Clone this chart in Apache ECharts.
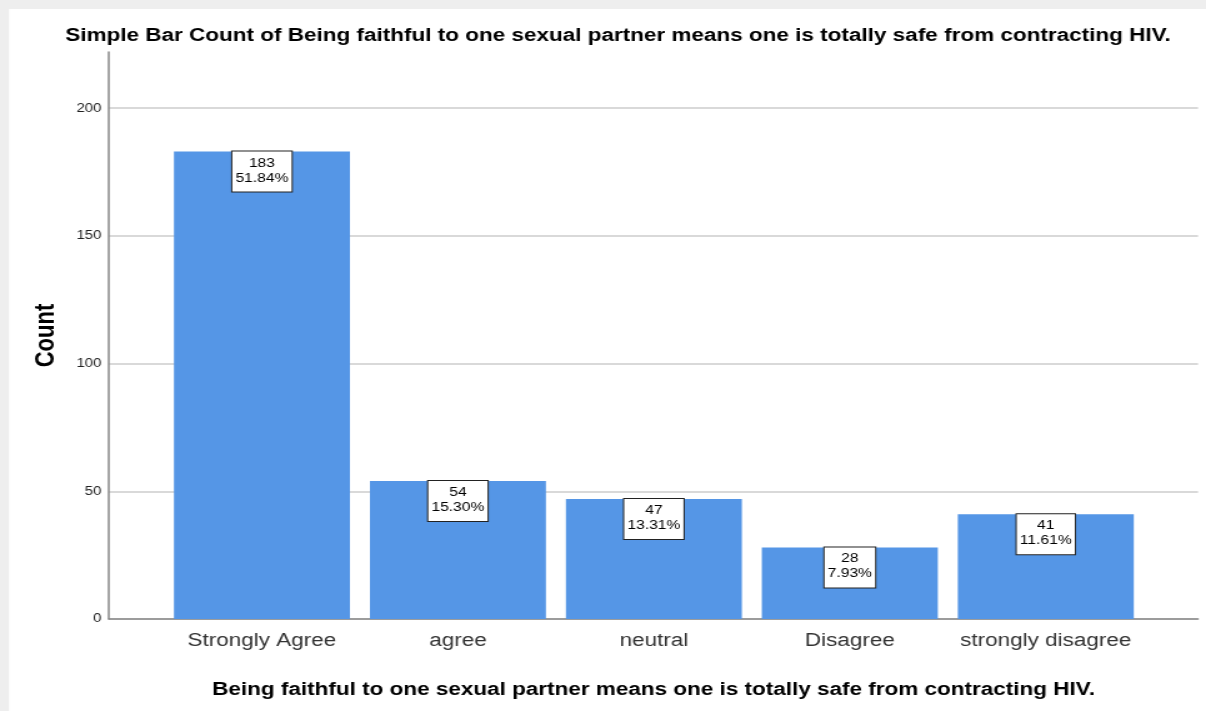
<!DOCTYPE html>
<html>
<head>
<meta charset="utf-8">
<script src="https://cdn.jsdelivr.net/npm/echarts@6/dist/echarts.min.js"></script>
<style>
html,body{margin:0;padding:0;background:#fff;overflow:hidden;}
#wrap{width:1206px;height:711px;overflow:hidden;position:relative;}
#chart{width:965px;height:711px;transform:scaleX(1.24974);transform-origin:0 0;}
</style>
</head>
<body>
<div id="wrap"><div id="chart"></div></div>
<script>
const categories = ['Strongly Agree', 'agree', 'neutral', 'Disagree', 'strongly disagree'];
const counts = [183, 54, 47, 28, 41];
const percents = ['51.84%', '15.30%', '13.31%', '7.93%', '11.61%'];
const yTicks = [0, 50, 100, 150, 200];

const chart = echarts.init(document.getElementById('chart'));
const option = {
  animation: false,
  backgroundColor: '#ffffff',
  textStyle: { fontFamily: 'Arial, "Liberation Sans", sans-serif' },
  graphic: [
    { type: 'rect', shape: { x: 0, y: 0, width: 965, height: 9 }, style: { fill: '#eeeeee' }, z: 100 },
    { type: 'rect', shape: { x: 0, y: 0, width: 7.2, height: 711 }, style: { fill: '#eeeeee' }, z: 100 }
  ],
  title: {
    text: 'Simple Bar Count of Being faithful to one sexual partner means one is totally safe from contracting HIV.',
    left: 489.5,
    top: 22,
    textAlign: 'center',
    textStyle: { fontSize: 18, fontWeight: 'bold', color: '#000', fontFamily: 'Arial, "Liberation Sans", sans-serif' }
  },
  grid: [
    { left: 87.2, right: 6.4, top: 52, bottom: 92 },
    { left: 131.2, right: 49.8, top: 52, bottom: 92 }
  ],
  xAxis: [
    {
      gridIndex: 0, type: 'value', min: 0, max: 1,
      axisLine: { show: true, onZero: false, lineStyle: { color: '#888888', width: 1.5 } },
      axisTick: { show: false }, axisLabel: { show: false }, splitLine: { show: false },
      name: 'Being faithful to one sexual partner means one is totally safe from contracting HIV.',
      nameLocation: 'middle', nameGap: 62,
      nameTextStyle: { fontSize: 18, fontWeight: 'bold', color: '#000' }
    },
    {
      gridIndex: 1, type: 'category', data: categories,
      axisLine: { show: false }, axisTick: { show: false },
      axisLabel: { fontSize: 18, color: '#333', margin: 13, interval: 0, hideOverlap: false }
    }
  ],
  yAxis: [
    {
      gridIndex: 0, type: 'value', min: 0, max: 222, interval: 50,
      axisLine: { show: true, lineStyle: { color: '#888888', width: 1.5 } },
      axisTick: { show: false },
      axisLabel: {
        fontSize: 12, color: '#222', margin: 6, showMaxLabel: false,
        formatter: v => (yTicks.indexOf(v) >= 0 ? String(v) : '')
      },
      splitLine: { show: true, showMaxLine: false, lineStyle: { color: '#cccccc', width: 1.5 } },
      name: 'Count', nameLocation: 'middle', nameGap: 39, nameRotate: 90,
      nameTextStyle: { fontSize: 22, fontWeight: 'bold', color: '#000' }
    },
    {
      gridIndex: 1, type: 'value', min: 0, max: 222, interval: 50, show: false,
      splitLine: { show: false }
    }
  ],
  series: [
    {
      type: 'bar',
      xAxisIndex: 1, yAxisIndex: 1,
      data: counts,
      barWidth: 140.8,
      itemStyle: { color: '#5596e6' },
      label: {
        show: true,
        position: 'insideTop',
        distance: 0,
        formatter: p => counts[p.dataIndex] + '\n' + percents[p.dataIndex],
        fontSize: 12.5,
        lineHeight: 15,
        color: '#000',
        align: 'center',
        backgroundColor: '#ffffff',
        borderColor: '#222222',
        borderWidth: 1,
        padding: [4, 2.5, 6, 2.5]
      }
    }
  ]
};
chart.setOption(option);
</script>
</body>
</html>
